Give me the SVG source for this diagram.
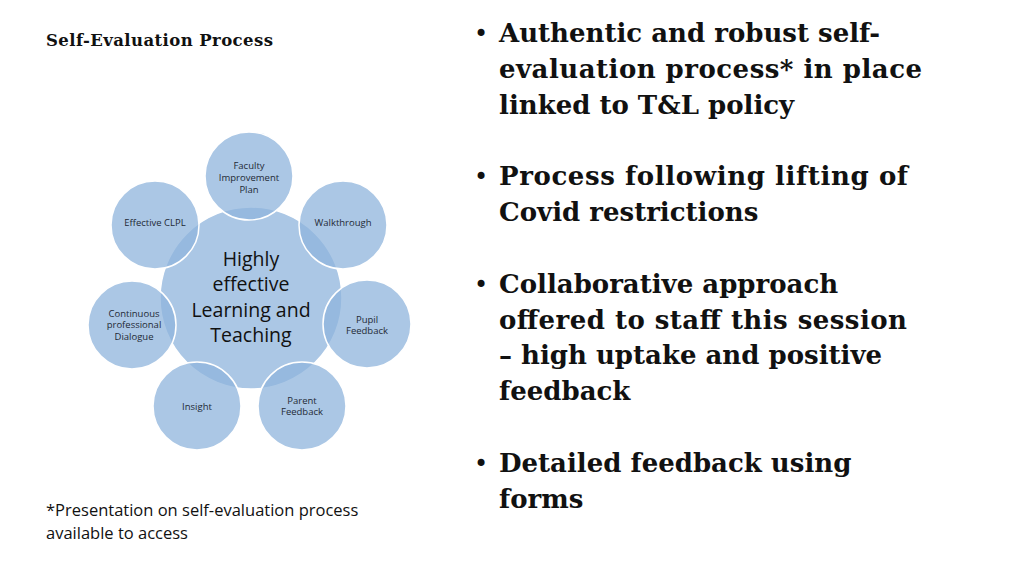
<svg xmlns="http://www.w3.org/2000/svg" width="1024" height="576" viewBox="0 0 1024 576">
<style>
.c{fill:#8fb4dc;fill-opacity:0.75;stroke:#fff;stroke-width:1.5}
.s{font-family:"Open Sans","Noto Sans",sans-serif;font-size:9.5px;fill:#1f2a36;text-anchor:middle}
.b{font-family:"DejaVu Serif",serif;font-weight:bold;font-size:26px;fill:#111}
.d{font-family:"DejaVu Sans",sans-serif;font-size:24px;fill:#111}
</style>
<rect width="1024" height="576" fill="#fff"/>
<text x="46" y="46" font-family="DejaVu Serif,serif" font-weight="bold" font-size="16.5" fill="#111" textLength="227">Self-Evaluation Process</text>
<g id="center"><circle class="c" cx="251" cy="298" r="91"/>
<text font-family="Open Sans,Noto Sans,sans-serif" font-size="19.5" fill="#111" text-anchor="middle"><tspan x="251" y="266">Highly</tspan><tspan x="251" y="291">effective</tspan><tspan x="251" y="317">Learning and</tspan><tspan x="251" y="342">Teaching</tspan></text></g>
<g id="faculty"><circle class="c" cx="249" cy="176" r="44"/><text class="s"><tspan x="249" y="169">Faculty</tspan><tspan x="249" y="181">Improvement</tspan><tspan x="249" y="193">Plan</tspan></text></g>
<g id="walk"><circle class="c" cx="343" cy="225" r="44"/><text class="s" x="343" y="226">Walkthrough</text></g>
<g id="pupil"><circle class="c" cx="367" cy="324" r="44"/><text class="s"><tspan x="367" y="323">Pupil</tspan><tspan x="367" y="334">Feedback</tspan></text></g>
<g id="parent"><circle class="c" cx="302" cy="406" r="44"/><text class="s"><tspan x="302" y="404">Parent</tspan><tspan x="302" y="415">Feedback</tspan></text></g>
<g id="insight"><circle class="c" cx="197" cy="406" r="44"/><text class="s" x="197" y="410">Insight</text></g>
<g id="cont"><circle class="c" cx="132" cy="325" r="44"/><text class="s"><tspan x="134" y="317">Continuous</tspan><tspan x="134" y="328">professional</tspan><tspan x="134" y="340">Dialogue</tspan></text></g>
<g id="clpl"><circle class="c" cx="155" cy="225" r="44"/><text class="s" x="155" y="226">Effective CLPL</text></g>
<g id="connectors"/>
<text font-family="Open Sans,Noto Sans,sans-serif" font-size="16.5" fill="#111"><tspan x="46" y="516">*Presentation on self-evaluation process</tspan><tspan x="46" y="539">available to access</tspan></text>
<g class="d"><text x="474" y="42">•</text><text x="474" y="185">•</text><text x="474" y="293">•</text><text x="474" y="472">•</text></g>
<g class="b">
<text><tspan x="499" y="42">Authentic and robust self-</tspan><tspan x="499" y="78" textLength="423">evaluation process* in place</tspan><tspan x="499" y="114">linked to T&amp;L policy</tspan></text>
<text><tspan x="499" y="185" textLength="409">Process following lifting of</tspan><tspan x="499" y="221">Covid restrictions</tspan></text>
<text><tspan x="499" y="293">Collaborative approach</tspan><tspan x="499" y="329" textLength="408">offered to staff this session</tspan><tspan x="499" y="364">– high uptake and positive</tspan><tspan x="499" y="400">feedback</tspan></text>
<text><tspan x="499" y="472">Detailed feedback using</tspan><tspan x="499" y="508">forms</tspan></text>
</g>
</svg>
